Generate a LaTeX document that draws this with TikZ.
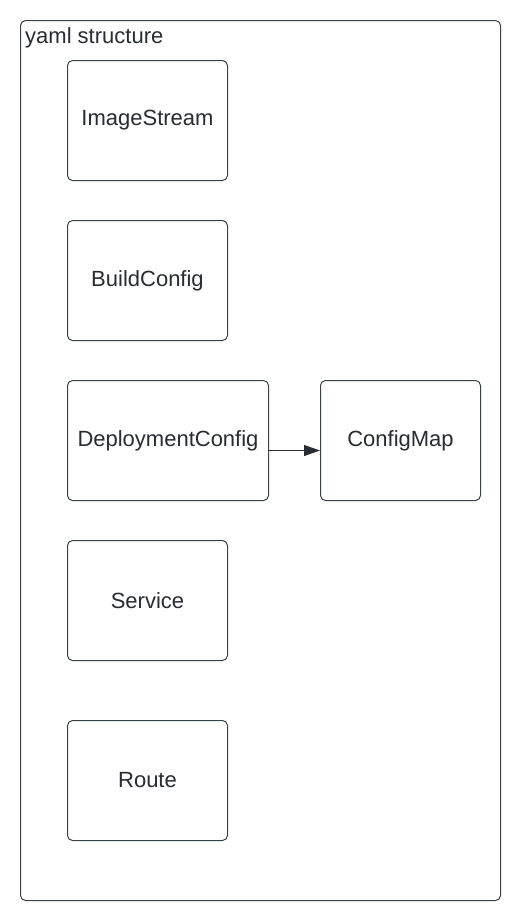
\documentclass[tikz,border=0pt]{standalone}
\usepackage{fontspec}
\setmainfont{Liberation Sans}
\usetikzlibrary{arrows.meta}
\definecolor{txt}{HTML}{282C33}
\definecolor{edge}{HTML}{3A414A}
\tikzset{
  res/.style={draw=edge, line width=1pt, rounded corners=5pt, fill=white, text=txt, font=\fontsize{22}{26}\selectfont, inner sep=0pt, anchor=north west},
  conn/.style={draw=txt, line width=1pt, -{Triangle[length=16pt,width=11pt]}},
}
\begin{document}
\begin{tikzpicture}[x=1pt,y=-1pt]
\useasboundingbox (0,0) rectangle (521,921);
\node[draw=edge, line width=1pt, rounded corners=5pt, minimum width=480pt, minimum height=880pt, anchor=north west, inner sep=0pt] (frame) at (20,20) {};
\node[anchor=north west, text=txt, font=\fontsize{22}{26}\selectfont, inner sep=0pt] (title) at (25,27) {yaml structure};
\node[res, minimum width=160pt, minimum height=120pt] (is) at (67,60) {ImageStream};
\node[res, minimum width=160pt, minimum height=120pt] (bc) at (67,220) {BuildConfig};
\node[res, minimum width=201pt, minimum height=120pt] (dc) at (67,380) {DeploymentConfig};
\node[res, minimum width=160pt, minimum height=120pt] (cm) at (320,380) {ConfigMap};
\node[res, minimum width=160pt, minimum height=120pt] (sv) at (67,540) {Service};
\node[res, minimum width=160pt, minimum height=120pt] (rt) at (67,720) {Route};
\draw[conn] ([yshift=-10pt]dc.east) -- ([yshift=-10pt]cm.west);
\end{tikzpicture}
\end{document}
